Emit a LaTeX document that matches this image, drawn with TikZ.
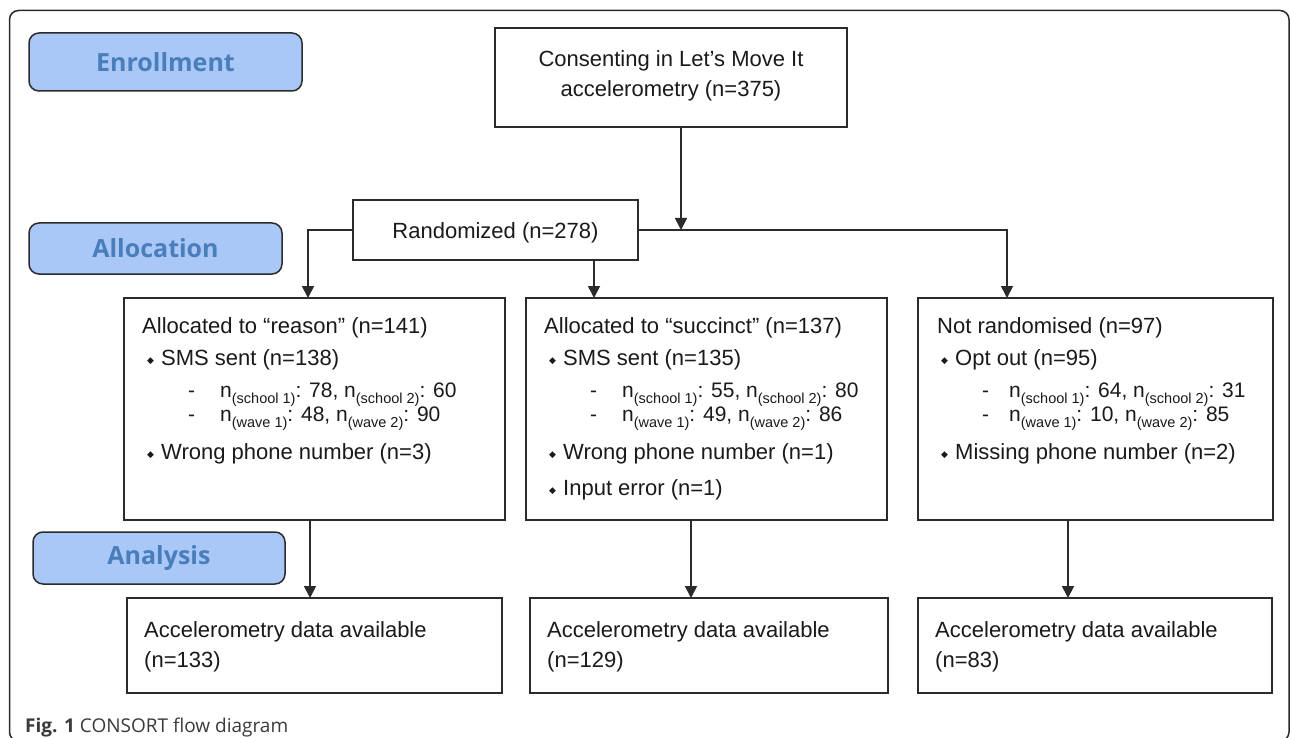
\documentclass[tikz,border=0pt]{standalone}
\usepackage{fontspec}
\setmainfont{Liberation Sans}
\newfontfamily\osans{Open Sans}
\newfontfamily\dejavu{DejaVu Sans}
\usetikzlibrary{arrows.meta}
\definecolor{lc}{HTML}{2B2B2B}
\definecolor{tc}{HTML}{1A1A1A}
\definecolor{labfill}{HTML}{A9C8F7}
\definecolor{labtext}{HTML}{4A7EBB}
\definecolor{capc}{HTML}{3A3A3A}
\newcommand\mysub[1]{\raisebox{-0.32em}{\fontsize{14.5}{14.5}\selectfont #1}}
\newcommand\dmd{\makebox[14pt][l]{\raisebox{2pt}{\dejavu\fontsize{9}{9}\selectfont ◆}}}
\tikzset{
  boxn/.style={draw=lc, line width=1.8pt, anchor=north west, inner sep=0pt, outer sep=0pt},
  lab/.style={draw=lc, fill=labfill, rounded corners=10pt, line width=1.5pt, anchor=north west,
    inner sep=0pt, outer sep=0pt, text=labtext, font=\osans\bfseries\fontsize{25}{25}\selectfont},
  txt/.style={anchor=base west, inner sep=0pt, text=tc, font=\fontsize{22}{22}\selectfont},
  subtxt/.style={anchor=base west, inner sep=0pt, text=tc, font=\fontsize{21}{21}\selectfont},
  ctxt/.style={anchor=base, inner sep=0pt, text=tc, font=\fontsize{22}{22}\selectfont},
  arr/.style={draw=lc, line width=1.8pt, -{Triangle[length=12pt,width=12pt]}},
}
\begin{document}
\begin{tikzpicture}[x=1pt,y=-1pt]
\useasboundingbox (0,0) rectangle (1290,738);
\clip (0,0) rectangle (1290,738);
\fill[white] (0,0) rectangle (1290,738);
% outer frame
\draw[lc, line width=1.5pt, rounded corners=9pt] (9.5,10.5) rectangle (1289,741);

% stage labels
\node[lab, minimum width=273pt, minimum height=58pt] (enr) at (29,33) {Enrollment};
\node[lab, minimum width=253pt, minimum height=51pt] (alc) at (29,223) {Allocation};
\node[lab, minimum width=252pt, minimum height=52pt] (ana) at (33,532) {Analysis};

% top boxes
\node[boxn, minimum width=352pt, minimum height=99pt] (cons) at (495,28) {};
\node[ctxt] (cons1) at (671,67) {Consenting in Let’s Move It};
\node[ctxt] (cons2) at (671,97) {accelerometry (n=375)};

\node[boxn, minimum width=285pt, minimum height=60pt] (rand) at (353,200) {};
\node[ctxt] (rand1) at (495.5,238) {Randomized (n=278)};

% middle boxes
\node[boxn, minimum width=381pt, minimum height=222pt] (b1) at (124,298) {};
\node[boxn, minimum width=361pt, minimum height=222pt] (b2) at (526,298) {};
\node[boxn, minimum width=355pt, minimum height=222pt] (b3) at (918,298) {};

% box 1 text
\node[txt] (t11) at (142,333) {Allocated to “reason” (n=141)};
\node[txt] (t12) at (147,365) {\dmd SMS sent (n=138)};
\node[subtxt] (t13) at (188,397) {\makebox[32pt][l]{-}n\mysub{(school 1)}: 78, n\mysub{(school 2)}: 60};
\node[subtxt] (t14) at (188,421) {\makebox[32pt][l]{-}n\mysub{(wave 1)}: 48, n\mysub{(wave 2)}: 90};
\node[txt] (t15) at (147,459) {\dmd Wrong phone number (n=3)};

% box 2 text
\node[txt] (t21) at (544,333) {Allocated to “succinct” (n=137)};
\node[txt] (t22) at (549,365) {\dmd SMS sent (n=135)};
\node[subtxt] (t23) at (590,397) {\makebox[32pt][l]{-}n\mysub{(school 1)}: 55, n\mysub{(school 2)}: 80};
\node[subtxt] (t24) at (590,421) {\makebox[32pt][l]{-}n\mysub{(wave 1)}: 49, n\mysub{(wave 2)}: 86};
\node[txt] (t25) at (549,459) {\dmd Wrong phone number (n=1)};
\node[txt] (t26) at (549,495) {\dmd Input error (n=1)};

% box 3 text
\node[txt] (t31) at (937,333) {Not randomised (n=97)};
\node[txt] (t32) at (941,365) {\dmd Opt out (n=95)};
\node[subtxt] (t33) at (982,397) {\makebox[27pt][l]{-}n\mysub{(school 1)}: 64, n\mysub{(school 2)}: 31};
\node[subtxt] (t34) at (982,421) {\makebox[27pt][l]{-}n\mysub{(wave 1)}: 10, n\mysub{(wave 2)}: 85};
\node[txt] (t35) at (941,459) {\dmd Missing phone number (n=2)};

% bottom boxes
\node[boxn, minimum width=375pt, minimum height=95pt] (a1) at (127,598) {};
\node[boxn, minimum width=358pt, minimum height=95pt] (a2) at (530,598) {};
\node[boxn, minimum width=354pt, minimum height=95pt] (a3) at (918,598) {};
\node[txt] (u11) at (144,637) {Accelerometry data available};
\node[txt] (u12) at (144,667) {(n=133)};
\node[txt] (u21) at (547,637) {Accelerometry data available};
\node[txt] (u22) at (547,667) {(n=129)};
\node[txt] (u31) at (935,637) {Accelerometry data available};
\node[txt] (u32) at (935,667) {(n=83)};

% connector coordinates
\coordinate (j0) at (681,230);
\coordinate (c1) at (308,298);
\coordinate (c2) at (594,298);
\coordinate (c3) at (1007,298);
\coordinate (d1) at (310,598);
\coordinate (d2) at (691,598);
\coordinate (d3) at (1068,598);

% connectors
\draw[arr] (cons.south -| j0) -- (j0);
\draw[arr] (rand.west) -| (c1);
\draw[arr] (rand.east) -| (c3);
\draw[arr] (rand.south -| c2) -- (c2);
\draw[arr] (b1.south -| d1) -- (d1);
\draw[arr] (b2.south -| d2) -- (d2);
\draw[arr] (b3.south -| d3) -- (d3);

% caption
\node[anchor=base west, inner sep=0pt, text=capc, font=\osans\fontsize{19}{19}\selectfont] (cap) at (25,732) {\textbf{Fig. 1} CONSORT flow diagram};
\end{tikzpicture}
\end{document}
